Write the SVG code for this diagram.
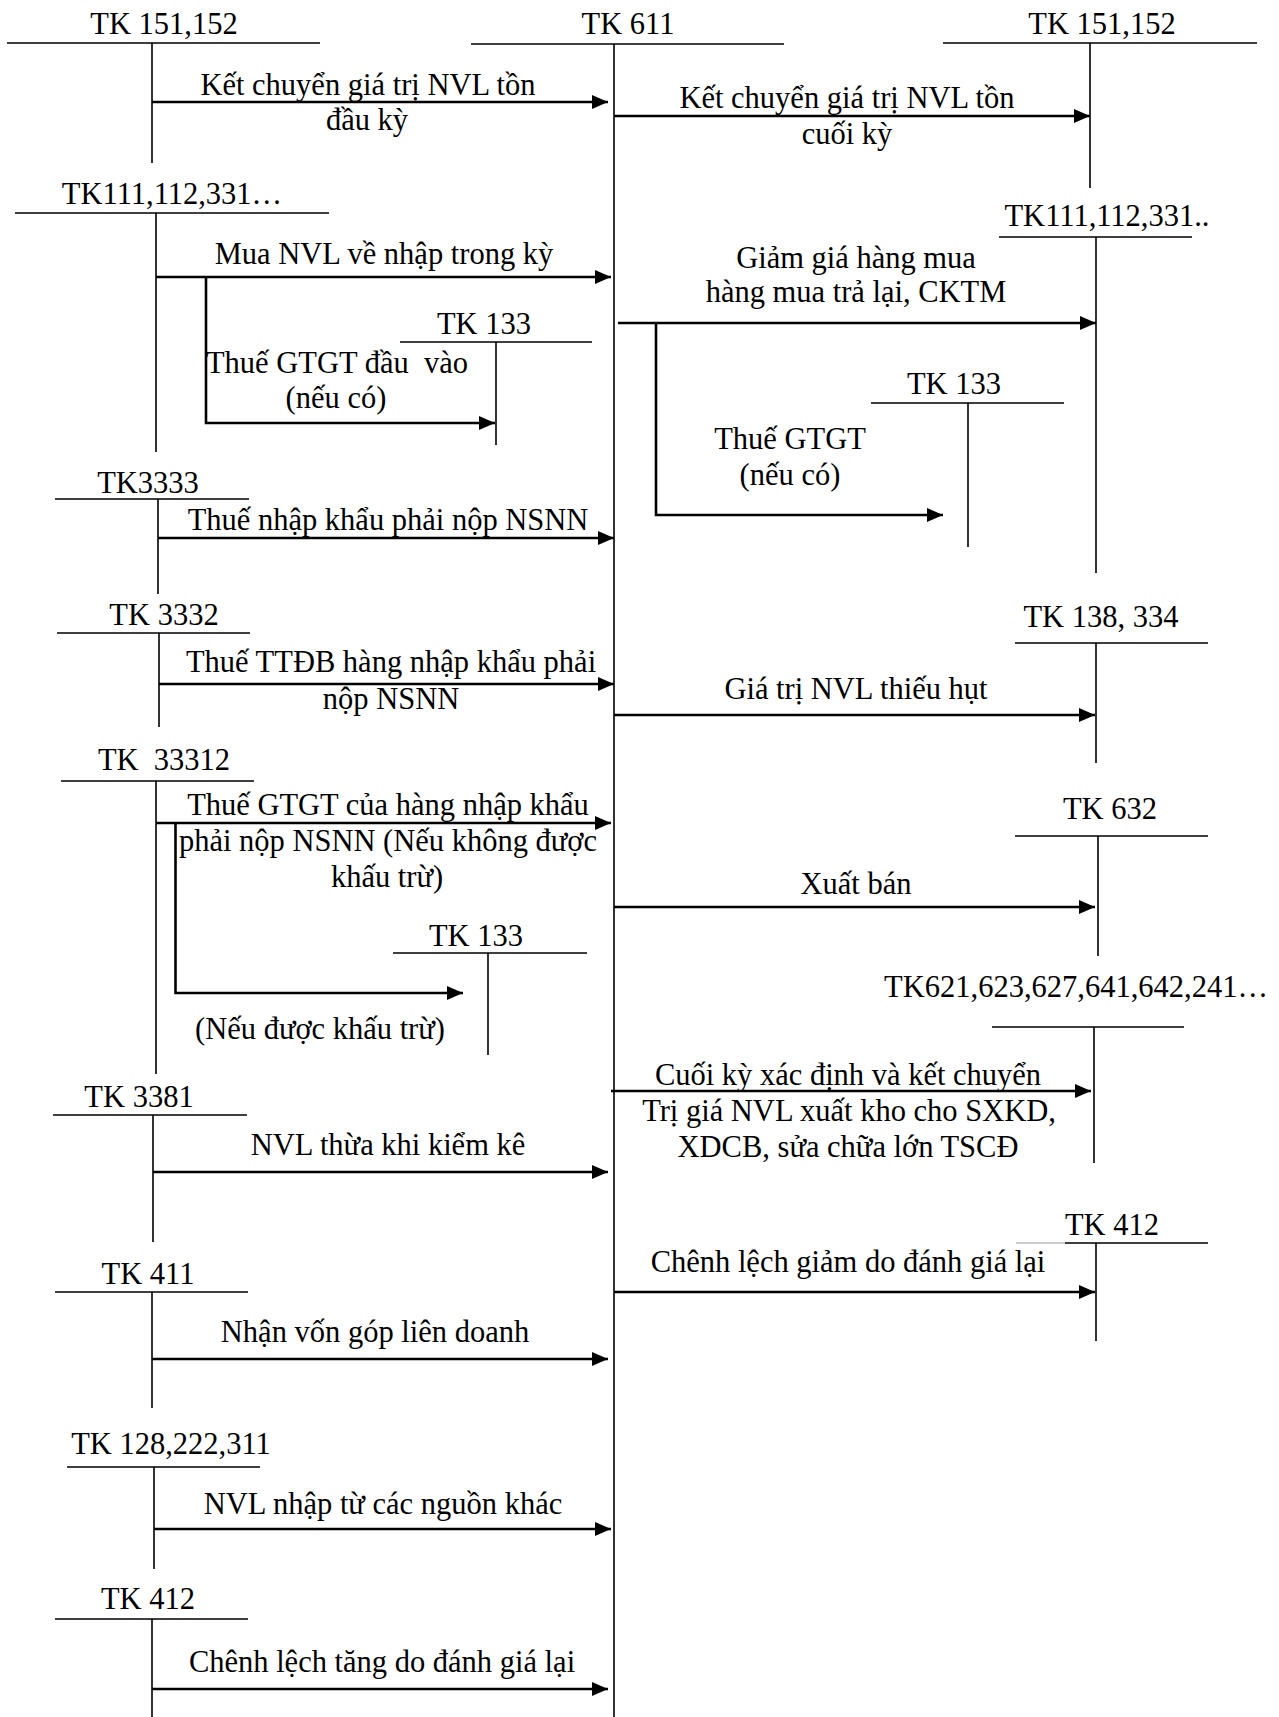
<svg xmlns="http://www.w3.org/2000/svg" width="1279" height="1717" viewBox="0 0 1279 1717">
<style>
text{font-family:"Liberation Serif","Times New Roman",serif;font-size:30.5px;fill:#000;text-anchor:middle;transform:translate(0px,2px)}
.t{stroke:#000;stroke-width:1.6;fill:none}
.a{stroke:#000;stroke-width:2.6;fill:none;marker-end:url(#ah)}
</style>
<defs>
<marker id="ah" markerUnits="userSpaceOnUse" markerWidth="17" markerHeight="15" refX="16" refY="7" orient="auto">
<path d="M0,0 L16,7 L0,14 Z" fill="#000"/>
</marker>
</defs>
<rect width="1279" height="1717" fill="#fff"/>

<g id="tk151-left"><text x="164" y="32">TK 151,152</text><path class="t" d="M7,43H320M152,43V163"/></g>
<g id="tk611"><text x="628" y="32">TK 611</text><path class="t" d="M471,44H784M614,44V1717"/></g>
<g id="tk151-right"><text x="1102" y="32">TK 151,152</text><path class="t" d="M943,43H1257M1090,43V188"/></g>
<g id="tk111-left"><text x="172" y="202">TK111,112,331…</text><path class="t" d="M15,213H329M156,213V452"/></g>
<g id="tk111-right"><text x="1107" y="224">TK111,112,331..</text><path class="t" d="M999,237H1192M1096,237V573"/></g>
<g id="tk133-a"><text x="484" y="332">TK 133</text><path class="t" d="M400,342H592M496,342V445"/></g>
<g id="tk133-b"><text x="954" y="392">TK 133</text><path class="t" d="M871,403H1064M968,403V547"/></g>
<g id="tk3333"><text x="148" y="491">TK3333</text><path class="t" d="M55,499H249M158,499V594"/></g>
<g id="tk3332"><text x="164" y="623">TK 3332</text><path class="t" d="M57,633H250M159,633V727"/></g>
<g id="tk138"><text x="1101" y="625">TK 138, 334</text><path class="t" d="M1015,643H1208M1096,643V763"/></g>
<g id="tk33312"><text x="164" y="768" xml:space="preserve">TK  33312</text><path class="t" d="M61,781H254M156,781V1074"/></g>
<g id="tk632"><text x="1110" y="817">TK 632</text><path class="t" d="M1015,836H1208M1098,836V956"/></g>
<g id="tk133-c"><text x="476" y="944">TK 133</text><path class="t" d="M393,953H587M488,953V1055"/></g>
<g id="tk621"><text x="1076" y="995">TK621,623,627,641,642,241…</text><path class="t" d="M992,1027H1184M1094,1027V1163"/></g>
<g id="tk3381"><text x="139" y="1105">TK 3381</text><path class="t" d="M53,1115H247M153,1115V1242"/></g>
<g id="tk412-right"><text x="1112" y="1233">TK 412</text><path d="M1016,1243H1065" stroke="#999" stroke-width="1"/><path class="t" d="M1065,1243H1208M1096,1243V1341"/></g>
<g id="tk411"><text x="148" y="1282">TK 411</text><path class="t" d="M55,1292H248M152,1292V1408"/></g>
<g id="tk128"><text x="171" y="1452">TK 128,222,311</text><path class="t" d="M67,1467H260M154,1467V1569"/></g>
<g id="tk412-left"><text x="148" y="1607">TK 412</text><path class="t" d="M55,1619H248M152,1619V1717"/></g>

<g id="connectors">
<path class="a" d="M152,102H608"/>
<path class="a" d="M614,116H1090"/>
<path class="a" d="M156,277H611"/>
<path class="a" d="M206,277V423H495"/>
<path class="a" d="M618,323H1096"/>
<path class="a" d="M656,323V515H943"/>
<path class="a" d="M158,538H614"/>
<path class="a" d="M159,684H614"/>
<path class="a" d="M614,715H1095"/>
<path class="a" d="M156,823H611"/>
<path class="a" d="M175.5,823V993H463"/>
<path class="a" d="M614,907H1095"/>
<path class="a" d="M611,1091H1091"/>
<path class="a" d="M153,1172H608"/>
<path class="a" d="M614,1292H1095"/>
<path class="a" d="M152,1359H608"/>
<path class="a" d="M154,1529H611"/>
<path class="a" d="M152,1689H608"/>
</g>

<g id="labels">
<text x="368" y="93">Kết chuyển giá trị NVL tồn</text>
<text x="367" y="128">đầu kỳ</text>
<text x="847" y="106">Kết chuyển giá trị NVL tồn</text>
<text x="847" y="142">cuối kỳ</text>
<text x="384" y="262">Mua NVL về nhập trong kỳ</text>
<text x="337" y="371" xml:space="preserve">Thuế GTGT đầu  vào</text>
<text x="336" y="406">(nếu có)</text>
<text x="856" y="266">Giảm giá hàng mua</text>
<text x="856" y="300">hàng mua trả lại, CKTM</text>
<text x="790" y="447">Thuế GTGT</text>
<text x="790" y="483">(nếu có)</text>
<text x="388" y="528">Thuế nhập khẩu phải nộp NSNN</text>
<text x="391" y="670">Thuế TTĐB hàng nhập khẩu phải</text>
<text x="391" y="707">nộp NSNN</text>
<text x="856" y="697">Giá trị NVL thiếu hụt</text>
<text x="388" y="813">Thuế GTGT của hàng nhập khẩu</text>
<text x="388" y="849">phải nộp NSNN (Nếu không được</text>
<text x="387" y="885">khấu trừ)</text>
<text x="856" y="892">Xuất bán</text>
<text x="320" y="1037">(Nếu được khấu trừ)</text>
<text x="848" y="1083">Cuối kỳ xác định và kết chuyển</text>
<text x="849" y="1119">Trị giá NVL xuất kho cho SXKD,</text>
<text x="848" y="1155">XDCB, sửa chữa lớn TSCĐ</text>
<text x="388" y="1153">NVL thừa khi kiểm kê</text>
<text x="848" y="1270">Chênh lệch giảm do đánh giá lại</text>
<text x="375" y="1340">Nhận vốn góp liên doanh</text>
<text x="383" y="1512">NVL nhập từ các nguồn khác</text>
<text x="382" y="1670">Chênh lệch tăng do đánh giá lại</text>
</g>
</svg>
